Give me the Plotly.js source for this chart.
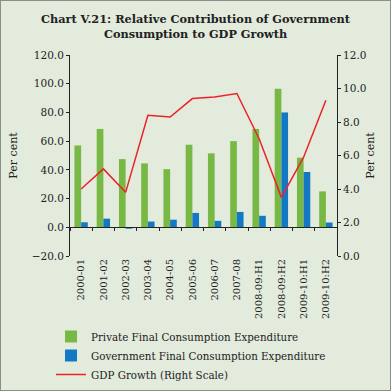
<!DOCTYPE html>
<html><head><meta charset="utf-8">
<script src="https://cdn.plot.ly/plotly-3.0.1.min.js"></script>
<style>
html,body{margin:0;padding:0;background:#e3ebdd;}
#c{width:389px;height:389px;border:1px solid #8a8f88;}
</style></head>
<body><div id="c"></div>
<script>
const categories = ["2000-01","2001-02","2002-03","2003-04","2004-05","2005-06","2006-07","2007-08","2008-09:H1","2008-09:H2","2009-10:H1","2009-10:H2"];
const privateCons = [57.0, 68.5, 47.5, 44.5, 40.5, 57.5, 51.5, 60.0, 68.5, 96.5, 48.5, 25.0];
const govtCons = [3.5, 6.0, -1.0, 4.0, 5.3, 10.0, 4.5, 10.7, 8.0, 80.0, 38.5, 3.3];
const gdpGrowth = [4.0, 5.2, 3.8, 8.4, 8.3, 9.4, 9.5, 9.7, 7.0, 3.5, 5.9, 9.3];
const leftTicks = [-20, 0, 20, 40, 60, 80, 100, 120];
const rightTicks = [0, 2, 4, 6, 8, 10, 12];

const serif = "DejaVu Serif, Liberation Serif, serif";
const traces = [
  {type:'bar', x:categories, y:privateCons, name:'Private Final Consumption Expenditure',
   marker:{color:'#78b844'}, xaxis:'x', yaxis:'y'},
  {type:'bar', x:categories, y:govtCons, name:'Government Final Consumption Expenditure',
   marker:{color:'#1479c4'}, xaxis:'x', yaxis:'y'},
  {type:'scatter', mode:'lines', x:categories, y:gdpGrowth, name:'GDP Growth (Right Scale)',
   line:{color:'#ec2229', width:1.5}, xaxis:'x', yaxis:'y2'}
];
const layout = {
  width:389, height:389,
  paper_bgcolor:'#e3ebdd', plot_bgcolor:'#e3ebdd',
  margin:{l:69, r:53, t:54, b:134, autoexpand:false},
  font:{family:serif, size:10.5, color:'#222'},
  title:{text:'<b>Chart V.21: Relative Contribution of Government<br>Consumption to GDP Growth</b>',
         x:0.5, xanchor:'center', xref:'container', yref:'container', y:1-22/389, yanchor:'middle',
         font:{size:11.3, family:serif, color:'#222'}},
  barmode:'group', bargap:0.4, bargroupgap:0,
  showlegend:true,
  legend:{x:-19/267, xanchor:'left', y:-66/201, yanchor:'top',
          bgcolor:'rgba(0,0,0,0)', font:{size:10.3, family:serif}, tracegroupgap:0},
  xaxis:{type:'category', categoryorder:'array', categoryarray:categories, range:[-0.5,11.5],
         tickangle:-90, showline:false, ticks:'', showgrid:false, zeroline:false, automargin:false,
         tickfont:{size:10, family:serif}, fixedrange:true},
  xaxis2:{type:'category', categoryorder:'array', categoryarray:categories, range:[-0.5,11.5],
          overlaying:'x', anchor:'free', position:20/140, showticklabels:false, automargin:false,
          ticks:'outside', tickson:'boundaries', ticklen:3, tickcolor:'#222',
          showline:true, linecolor:'#222', linewidth:1, showgrid:false, zeroline:false},
  yaxis:{range:[-20,120], tickvals:leftTicks, tickformat:'.1f', showgrid:false, automargin:true,
         zeroline:false, showline:true, linecolor:'#222', linewidth:1,
         ticks:'outside', ticklen:3, tickcolor:'#222',
         title:{text:'Per cent', font:{size:11, family:serif}, standoff:11}},
  yaxis2:{range:[0,12], tickvals:rightTicks, tickformat:'.1f', overlaying:'y', side:'right',
          showgrid:false, zeroline:false, showline:true, linecolor:'#222', linewidth:1, automargin:true,
          ticks:'outside', ticklen:3, tickcolor:'#222',
          title:{text:'Per cent', font:{size:11, family:serif}, standoff:0}}
};
traces.push({type:'scatter', mode:'markers', x:categories, y:privateCons.map(()=>null), xaxis:'x2', yaxis:'y', showlegend:false, hoverinfo:'skip'});
Plotly.newPlot('c', traces, layout, {displayModeBar:false, staticPlot:true});
</script></body></html>
